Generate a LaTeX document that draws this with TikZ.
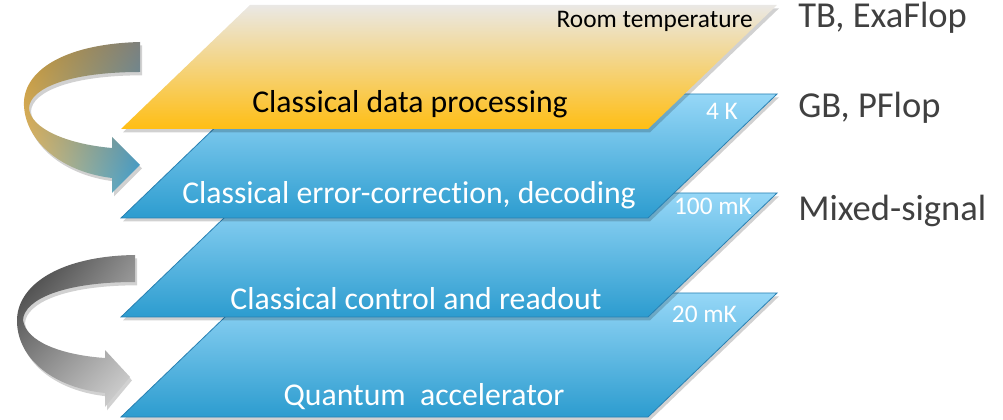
\documentclass[tikz,border=0pt]{standalone}
\usepackage{fontspec}
\setmainfont{Carlito}[Ligatures=NoCommon]
\usetikzlibrary{positioning,shadings}
\definecolor{roomgray}{RGB}{234,232,229}
\definecolor{roompeach}{RGB}{246,214,160}
\definecolor{roomgold}{RGB}{255,190,20}
\definecolor{coldtop}{RGB}{150,215,247}
\definecolor{coldbot}{RGB}{44,156,207}
\definecolor{coldedge}{RGB}{40,128,178}
\definecolor{labelgray}{RGB}{64,64,64}
\definecolor{loopgold}{RGB}{196,148,50}
\definecolor{looptan}{RGB}{236,196,120}
\definecolor{loopgray}{RGB}{125,128,125}
\definecolor{loopblue}{RGB}{60,160,210}
\newcommand{\layerpath}[1]{(250,#1) -- (777,#1) -- (648,#1+124) -- (121,#1+124) -- cycle}

\begin{document}
\begin{tikzpicture}[x=0.75pt,y=-0.75pt,
  dropshade/.style={preaction={fill=black,opacity=.18,transform canvas={xshift=1.5pt,yshift=-2.5pt}}},
  coldlayer/.style={dropshade,top color=coldtop,bottom color=coldbot,draw=coldedge,line width=.6pt},
  roomlayer/.style={dropshade,top color=roomgray,middle color=roompeach,bottom color=roomgold},
  bigtext/.style={font=\fontsize{23.8}{28}\selectfont,anchor=base,inner sep=0pt},
  temptext/.style={font=\fontsize{19}{22}\selectfont,anchor=base east,inner sep=0pt},
  sidetext/.style={font=\fontsize{27.4}{32}\selectfont,text=labelgray,anchor=base west,inner sep=0pt}]
  \useasboundingbox (0,0) rectangle (1003,420);

  % layers, coldest first
  \foreach \ly in {293,193,94}
    \shade[coldlayer] \layerpath{\ly};
  \shade[roomlayer] \layerpath{5};

  % feedback loops on the left
  \shade[dropshade,upper left=loopgold,upper right=loopgray,lower left=looptan,lower right=loopblue]
    (140,42) .. controls (62,44) and (22,72) .. (24,106)
    .. controls (26,142) and (62,172) .. (112,178)
    -- (112,193) -- (140,165) -- (112,137) -- (112,148)
    .. controls (66,144) and (30,128) .. (29,108)
    .. controls (30,88) and (70,72) .. (140,72) -- cycle;
  \shade[dropshade,upper left=black!80,upper right=black!45,lower left=black!40,lower right=black!14]
    (135,255) .. controls (60,256) and (16,285) .. (17,322)
    .. controls (18,360) and (55,388) .. (105,393)
    -- (105,407) -- (130,377) -- (105,350) -- (105,358)
    .. controls (62,355) and (26,342) .. (23,320)
    .. controls (24,300) and (62,282) .. (135,282) -- cycle;

  \node[bigtext] (data) at (410,113) {Classical data processing};
  \node[bigtext,text=white] (decode) at (409,204) {Classical error-correction, decoding};
  \node[bigtext,text=white] (control) at (416,310) {Classical control and readout};
  \node[bigtext,text=white] (quantum) at (424,405) {Quantum\ \ accelerator};

  \node[temptext] (room) at (753,28) {Room temperature};
  \node[temptext,text=white] (fourk) at (738,120) {4 K};
  \node[temptext,text=white] (hundredmk) at (752,215) {100 mK};
  \node[temptext,text=white] (twentymk) at (737,322) {20 mK};

  \node[sidetext] (exa) at (798,28) {TB, ExaFlop};
  \node[sidetext] (peta) at (798,118) {GB, PFlop};
  \node[sidetext] (mixed) at (798,221) {Mixed-signal};
\end{tikzpicture}
\end{document}
